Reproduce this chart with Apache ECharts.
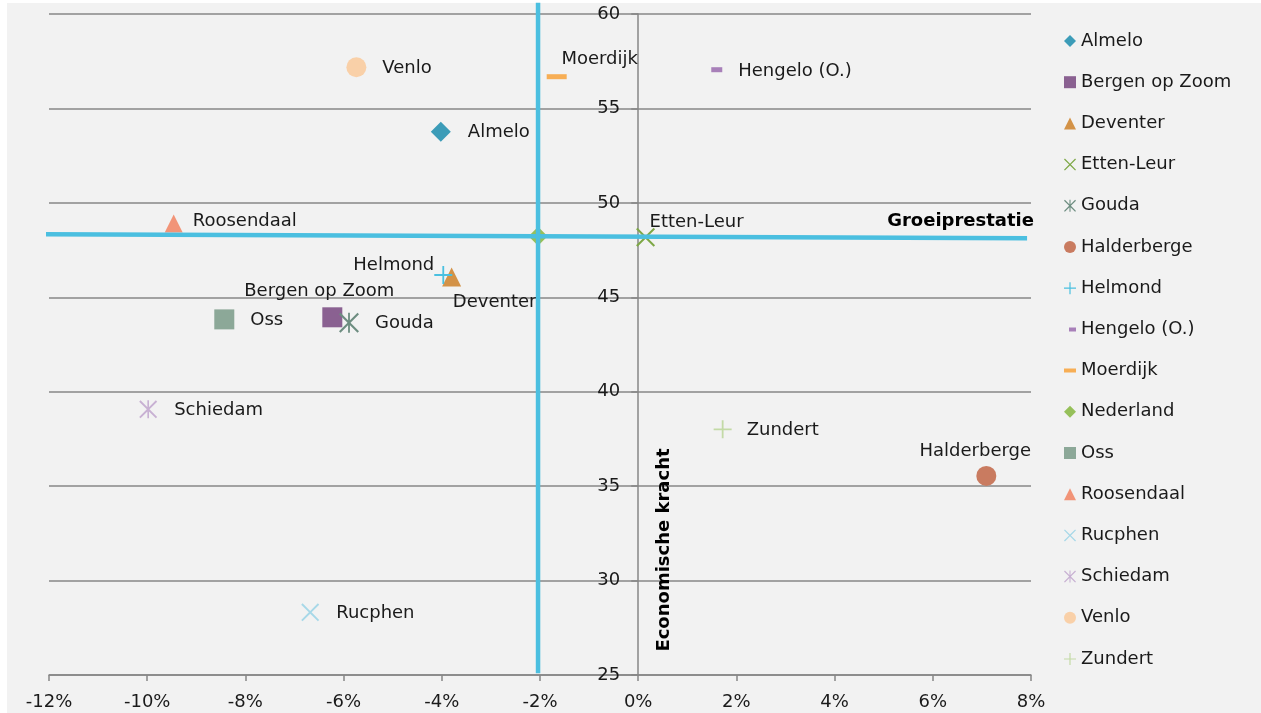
<!DOCTYPE html>
<html>
<head>
<meta charset="utf-8">
<script src="https://cdn.jsdelivr.net/npm/echarts@6/dist/echarts.min.js"></script>
<style>
html,body{margin:0;padding:0;background:#ffffff;}
#chart{width:1261px;height:713px;}
</style>
</head>
<body>
<div id="chart"></div>
<script>
// ---- data ----
const names = ['Almelo','Bergen op Zoom','Deventer','Etten-Leur','Gouda','Halderberge','Helmond','Hengelo (O.)','Moerdijk','Nederland','Oss','Roosendaal','Rucphen','Schiedam','Venlo','Zundert'];
const growth = [-4.02,-6.23,-3.80,0.15,-5.89,7.09,-3.97,1.60,-1.66,-2.04,-8.43,-9.46,-6.68,-9.98,-5.74,1.72];
const strength = [53.77,43.94,46.07,48.18,43.65,35.54,46.18,57.05,56.68,48.23,43.83,48.91,28.32,39.07,57.18,38.01];
const growthLine = [[-12.16,48.34],[7.92,48.12]];
const strengthLine = [[-2.04,60.6],[-2.04,25.09]];
const xMin = -12, xMax = 8, xStep = 2;
const yMin = 25, yMax = 60, yStep = 5;
const xTitle = 'Groeiprestatie';
const yTitle = 'Economische kracht';

// ---- styles / layout ----
const FONT = 'DejaVu Sans';
const TXT = '#1a1a1a';
const GRID = {left: 49, right: 230, top: 14, bottom: 38};
const CHART_W = 1261;
const P_X = 'path://M0,1.5 L1.5,0 L10,8.5 L18.5,0 L20,1.5 L11.5,10 L20,18.5 L18.5,20 L10,11.5 L1.5,20 L0,18.5 L8.5,10 Z';
const P_PLUS = 'path://M9,0 H11 V9 H20 V11 H11 V20 H9 V11 H0 V9 H9 Z';
const P_STAR = 'path://M0,1.5 L1.5,0 L10,8.5 L18.5,0 L20,1.5 L11.5,10 L20,18.5 L18.5,20 L10,11.5 L1.5,20 L0,18.5 L8.5,10 Z M9.1,0 H10.9 V20 H9.1 Z';
const P_DASH_S = 'path://M0,0 L0.01,0 Z M12,12 L11.99,12 Z M5,4 H12 V8 H5 Z';
const P_DASH_L = 'path://M0,0 L0.01,0 Z M12,12 L11.99,12 Z M0,4 H12 V8 H0 Z';

const styles = [
  {sym:'diamond', size:20, color:'#3C9CB8', icon:'diamond'},
  {sym:'rect', size:20, color:'#8A6191', icon:'rect'},
  {sym:'triangle', size:[19,19], color:'#D39247', icon:'triangle'},
  {sym:P_X, size:19, color:'#7EA846', icon:P_X},
  {sym:P_STAR, size:20, color:'#6D8D80', icon:P_STAR},
  {sym:'circle', size:20, color:'#C97B60', icon:'circle'},
  {sym:P_PLUS, size:18, color:'#4AC0E0', icon:P_PLUS},
  {sym:'rect', size:[11,5], color:'#A880B9', icon:P_DASH_S},
  {sym:'rect', size:[20,5], color:'#F7AE55', icon:P_DASH_L},
  {sym:'diamond', size:19, color:'#96C05A', icon:'diamond'},
  {sym:'rect', size:20, color:'#8CA898', icon:'rect'},
  {sym:'triangle', size:[18,18], color:'#F29478', icon:'triangle'},
  {sym:P_X, size:18, color:'#A7D8E8', icon:P_X},
  {sym:P_STAR, size:18, color:'#C8B1D3', icon:P_STAR},
  {sym:'circle', size:20, color:'#F9D0A8', icon:'circle'},
  {sym:P_PLUS, size:18, color:'#C3DAA6', icon:P_PLUS}
];
const labelPlace = [
  {position:'right', distance:17, offset:[0,1]},
  {position:'top', distance:7, offset:[-13,0]},
  {position:'bottom', distance:7, offset:[43,0]},
  {position:'top', distance:-3, offset:[51,1]},
  {position:'right', distance:16, offset:[0,1]},
  {position:'top', distance:6, offset:[-11,0]},
  {position:'left', distance:0, offset:[0,-10]},
  {position:'right', distance:16, offset:[0,2]},
  {position:'top', distance:6, offset:[43,0]},
  null,
  {position:'right', distance:16, offset:[0,1]},
  {position:'right', distance:10, offset:[0,-2]},
  {position:'right', distance:17, offset:[0,1]},
  {position:'right', distance:17, offset:[0,1]},
  {position:'right', distance:16, offset:[0,1]},
  {position:'right', distance:15, offset:[0,1]}
];

const series = names.map((n, i) => {
  const st = styles[i];
  const lp = labelPlace[i];
  return {
    name: n,
    type: 'scatter',
    symbol: st.sym,
    symbolSize: st.size,
    itemStyle: {color: st.color, opacity: 1},
    z: 3,
    label: lp ? {
      show: true,
      formatter: n,
      position: lp.position,
      distance: lp.distance,
      offset: lp.offset,
      fontFamily: FONT,
      fontSize: 18,
      color: TXT
    } : {show: false},
    data: [[growth[i], strength[i]]]
  };
});
series.push({
  type: 'line', data: growthLine, symbol: 'none', clip: false, silent: true, z: 6,
  lineStyle: {color: '#4BBFE0', width: 4.5}
});
series.push({
  type: 'line', data: strengthLine, symbol: 'none', clip: false, silent: true, z: 6,
  lineStyle: {color: '#4BBFE0', width: 4.5}
});

// the value axis crosses the category axis at x = 0
const gridW = CHART_W - GRID.left - GRID.right;
const yAxisOffset = -((0 - xMin) / (xMax - xMin) * gridW);

const chart = echarts.init(document.getElementById('chart'), null, {renderer: 'canvas'});
chart.setOption({
  animation: false,
  backgroundColor: '#F2F2F2',
  textStyle: {fontFamily: FONT},
  grid: {left: GRID.left, right: GRID.right, top: GRID.top, bottom: GRID.bottom, outerBoundsMode: 'none', containLabel: false},
  legend: {
    orient: 'vertical',
    left: 1064,
    top: 32,
    padding: 0,
    itemWidth: 12,
    itemHeight: 12,
    itemGap: 23.2,
    selectedMode: false,
    textStyle: {fontFamily: FONT, fontSize: 18, color: TXT, lineHeight: 18},
    data: names.map((n, i) => ({name: n, icon: styles[i].icon, itemStyle: {color: styles[i].color}}))
  },
  xAxis: {
    type: 'value', min: xMin, max: xMax, interval: xStep,
    axisLine: {onZero: false, lineStyle: {color: '#878787', width: 1.5}},
    axisTick: {show: true, length: 6, lineStyle: {color: '#878787', width: 1.5}},
    axisLabel: {formatter: v => v + '%', fontFamily: FONT, fontSize: 18, color: TXT, margin: 18},
    splitLine: {show: false}
  },
  yAxis: {
    type: 'value', min: yMin, max: yMax, interval: yStep,
    position: 'left',
    offset: yAxisOffset,
    axisLine: {show: true, onZero: false, lineStyle: {color: '#878787', width: 1.5}},
    axisTick: {show: true, length: 7, lineStyle: {color: '#878787', width: 1.5}},
    axisLabel: {fontFamily: FONT, fontSize: 18, color: TXT, margin: 18},
    splitLine: {show: true, lineStyle: {color: '#878787', width: 1.5}}
  },
  graphic: [
    {type: 'rect', shape: {x: 0, y: 0, width: 7, height: 713}, style: {fill: '#ffffff'}, silent: true},
    {type: 'rect', shape: {x: 0, y: 0, width: 1261, height: 3}, style: {fill: '#ffffff'}, silent: true},
    {type: 'text', x: 1034, y: 221, z: 10,
     style: {text: xTitle, font: 'bold 18px "DejaVu Sans"', fill: '#000', align: 'right', verticalAlign: 'middle'}},
    {type: 'text', x: 664, y: 550, rotation: Math.PI / 2, z: 10,
     style: {text: yTitle, font: 'bold 18px "DejaVu Sans"', fill: '#000', align: 'center', verticalAlign: 'middle'}}
  ],
  series: series
});
</script>
</body>
</html>
